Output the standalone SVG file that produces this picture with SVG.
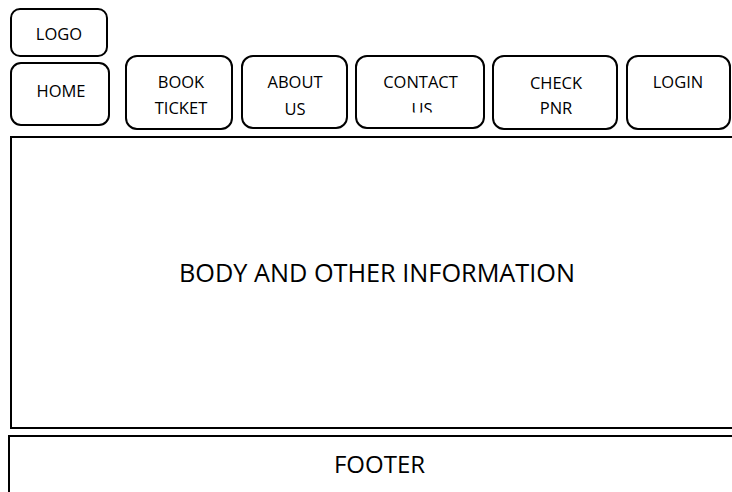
<svg xmlns="http://www.w3.org/2000/svg" width="732" height="492" viewBox="0 0 732 492">
  <style>
    .box { fill: #ffffff; stroke: #000000; stroke-width: 2; }
    .lbl { font-family: "Open Sans", "Liberation Sans", sans-serif; font-size: 16.5px; fill: #000000; text-anchor: middle; }
    .big { font-family: "Open Sans", "Liberation Sans", sans-serif; font-size: 25px; fill: #000000; text-anchor: middle; }
  </style>
  <defs>
    <!-- second line of the CONTACT US button is cut short by its text frame -->
    <clipPath id="contactClip">
      <rect x="356" y="56" width="128" height="56.5"/>
    </clipPath>
  </defs>
  <rect width="732" height="492" fill="#ffffff"/>

  <g id="logo">
    <rect class="box" x="11" y="9" width="96" height="47" rx="9"/>
    <text class="lbl" x="59" y="40">LOGO</text>
  </g>
  <g id="home">
    <rect class="box" x="11" y="63" width="98" height="62" rx="10"/>
    <text class="lbl" x="61" y="97">HOME</text>
  </g>
  <g id="book-ticket">
    <rect class="box" x="126" y="56" width="106" height="73" rx="11"/>
    <text class="lbl" x="181" y="88">BOOK</text>
    <text class="lbl" x="181" y="114">TICKET</text>
  </g>
  <g id="about-us">
    <rect class="box" x="242" y="56" width="105" height="72" rx="11"/>
    <text class="lbl" x="295" y="88">ABOUT</text>
    <text class="lbl" x="295" y="115">US</text>
  </g>
  <g id="contact-us">
    <rect class="box" x="356" y="56" width="128" height="72" rx="11"/>
    <text class="lbl" x="420.5" y="88">CONTACT</text>
    <text class="lbl" x="422" y="115" clip-path="url(#contactClip)">US</text>
  </g>
  <g id="check-pnr">
    <rect class="box" x="493" y="56" width="124" height="73" rx="11"/>
    <text class="lbl" x="556" y="89">CHECK</text>
    <text class="lbl" x="556" y="114">PNR</text>
  </g>
  <g id="login">
    <rect class="box" x="627" y="56" width="103" height="73" rx="11"/>
    <text class="lbl" x="678" y="88">LOGIN</text>
  </g>

  <g id="body">
    <rect class="box" x="11" y="137" width="730" height="291"/>
    <text class="big" x="377" y="282" textLength="396" lengthAdjust="spacingAndGlyphs">BODY AND OTHER INFORMATION</text>
  </g>
  <g id="footer">
    <rect class="box" x="9" y="436" width="730" height="70"/>
    <text class="big" x="379.5" y="473" style="font-size:24px">FOOTER</text>
  </g>

  <g id="connectors"></g>
</svg>
